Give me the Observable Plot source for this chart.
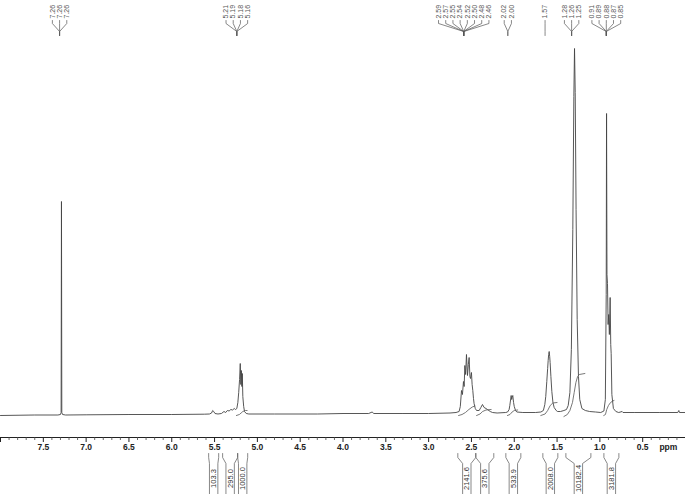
<!DOCTYPE html>
<html>
<head>
<meta charset="utf-8">
<script src="https://cdn.jsdelivr.net/npm/d3@7"></script>
<script src="https://cdn.jsdelivr.net/npm/@observablehq/plot@0.6"></script>
<style>
  html, body { margin: 0; padding: 0; background: #fff; }
  #chart { width: 685px; height: 494px; overflow: hidden; }
</style>
</head>
<body>
<div id="chart"></div>
<script>
// ---- Spectrum (chemical shift in ppm, intensity in arbitrary units) ----
const spectrum = [
  [8.00,-1],[7.60,-0.5],[7.33,-0.5],[7.30,0],[7.292,2],[7.288,213],[7.284,2],[7.275,0],[7.24,-0.5],
  [7.00,-0.3],[6.50,0],[6.00,0],[5.62,0.3],[5.56,0.5],[5.535,1.5],[5.522,4],[5.51,3],[5.495,1],
  [5.46,0.5],[5.42,1],[5.39,3],[5.37,2],[5.35,4],[5.33,3.5],[5.31,5],[5.29,4.5],[5.27,6],[5.255,5],
  [5.24,6],[5.228,12],[5.218,22],[5.208,35],[5.20,51],[5.193,30],[5.187,44],[5.181,28],[5.176,41],
  [5.17,18],[5.16,8],[5.15,3],[5.13,1],[5.10,0.5],[4.80,0.5],[4.30,0.5],[4.00,1],[3.70,1],[3.66,2.5],
  [3.64,1],[3.30,1],[3.00,1],[2.75,1.5],[2.68,2],[2.644,3],[2.63,8],[2.616,24],[2.605,20],[2.593,33],
  [2.585,28],[2.577,49],[2.568,40],[2.558,60],[2.546,39],[2.536,50],[2.527,57],[2.518,38],[2.511,36],
  [2.50,42],[2.492,30],[2.484,24],[2.476,16],[2.469,11],[2.455,6],[2.44,4],[2.41,4],[2.39,7],[2.371,10],
  [2.352,7],[2.33,6],[2.313,5],[2.28,3],[2.254,2],[2.20,1.5],[2.10,2],[2.078,2.5],[2.06,5],[2.052,9],
  [2.036,19],[2.03,15],[2.025,17],[2.017,19],[2.008,12],[2.00,8],[1.985,4],[1.97,2.5],[1.90,2],
  [1.75,2],[1.689,2.5],[1.66,4],[1.643,10],[1.632,18],[1.62,33],[1.61,46],[1.604,54],[1.598,60],
  [1.592,63],[1.586,58],[1.581,52],[1.572,38],[1.561,23],[1.548,12],[1.534,7],[1.51,4],[1.494,3],
  [1.46,3],[1.42,4],[1.39,5],[1.37,9],[1.35,22],[1.333,65],[1.316,185],[1.304,318],[1.296,366],
  [1.288,322],[1.278,205],[1.265,95],[1.25,38],[1.235,15],[1.21,6],[1.17,4],[1.12,3],[1.05,2.5],
  [0.99,2],[0.953,3.5],[0.936,15],[0.926,120],[0.922,301],[0.917,140],[0.911,131],[0.904,90],
  [0.897,100],[0.889,80],[0.880,117],[0.873,70],[0.868,61],[0.860,20],[0.842,6],[0.813,3],[0.78,2],
  [0.74,3],[0.73,2],[0.60,2],[0.30,2],[0.09,2],[0.078,4],[0.07,2],[0.00,2]
];

// ---- Integral curves (ppm, intensity) ----
const integralCurves = [
  [[5.245,-1],[5.21,0],[5.19,1.5],[5.17,3],[5.14,4],[5.12,4]],
  [[2.65,-1],[2.61,0],[2.57,2],[2.53,5],[2.49,7.5],[2.46,8.5]],
  [[2.44,-1],[2.40,0.5],[2.37,3],[2.33,4.5],[2.27,5]],
  [[2.08,-1],[2.05,0],[2.025,2.5],[2.00,4],[1.96,4.5]],
  [[1.69,-1],[1.64,0.5],[1.61,4],[1.58,9],[1.55,11.5],[1.50,12]],
  [[1.42,-2],[1.38,0],[1.35,4],[1.32,12],[1.30,22],[1.28,32],[1.26,38],[1.24,40],[1.175,41]],
  [[0.955,-1],[0.935,0],[0.92,5],[0.90,9],[0.875,12],[0.85,13.5],[0.835,14]]
];

// ---- Integral regions (from ppm, to ppm) and values ----
const integralFrom   = [5.569, 5.406, 5.230, 2.659, 2.449, 2.098, 1.666, 1.397, 0.953];
const integralTo     = [5.452, 5.230, 5.113, 2.449, 2.239, 1.923, 1.491, 1.105, 0.778];
const integralValues = ["103.3","295.0","1000.0","2141.6","375.6","533.9","2008.0","10182.4","3181.8"];

// ---- Peak labels ----
const peakGroupAnchors = [7.31, 5.24, 2.59, 2.075, 1.64, 1.33, 0.925];
const peakGroupLabels = [
  ["7.26","7.26","7.26"],
  ["5.21","5.19","5.18","5.16"],
  ["2.59","2.57","2.55","2.54","2.52","2.50","2.48","2.46"],
  ["2.02","2.00"],
  ["1.57"],
  ["1.28","1.26","1.25"],
  ["0.91","0.89","0.88","0.87","0.85"]
];

// ---- Axis ticks ----
const majorTicks = d3.range(0, 17).map(i => i * 0.5);
const tickLabels = d3.range(1, 16).map(i => i * 0.5);
const minorTicks = d3.range(0, 81).filter(i => i % 5 !== 0).map(i => i / 10);

// ---- Build derived tables ----
const pxPerPpm = 685 / 8;
const labelSpacing = 7.2 / pxPerPpm;
const labelRows = [];
const leaderRows = [];
peakGroupLabels.forEach((labels, g) => {
  const n = labels.length, cx = peakGroupAnchors[g];
  labels.forEach((t, i) => {
    const lx = cx + ((n - 1) / 2 - i) * labelSpacing;
    labelRows.push({x: lx, text: t});
    const id = g + "-" + i;
    leaderRows.push({id, x: lx, y: 394});
    leaderRows.push({id, x: lx, y: 391});
    leaderRows.push({id, x: cx, y: 383});
    leaderRows.push({id, x: cx, y: 379});
  });
});

const integralRows = [];
integralCurves.forEach((c, k) => c.forEach(([x, y]) => integralRows.push({id: k, x, y})));

const bracketRows = [];
const bracketText = [];
const hw = 4.2 / pxPerPpm;
integralFrom.forEach((f, k) => {
  const t = integralTo[k], c = (f + t) / 2;
  const h = Math.min(hw, (f - t) / 2);
  [[f, c + h], [t, c - h]].forEach(([edge, box], s) => {
    const id = k + "-" + s;
    bracketRows.push({id, x: edge, y: -39});
    bracketRows.push({id, x: edge, y: -43});
    bracketRows.push({id, x: box, y: -49});
    bracketRows.push({id, x: box, y: -82});
  });
  bracketText.push({x: c, text: integralValues[k]});
});

const ink = "#444";
const soft = "#555";

const chart = Plot.plot({
  width: 685,
  height: 494,
  marginLeft: 0, marginRight: 0, marginTop: 0, marginBottom: 0,
  x: {domain: [8, 0], axis: null},
  y: {domain: [-80, 414], axis: null},
  style: {background: "#fff", fontFamily: "'Liberation Sans', Arial, sans-serif"},
  marks: [
    // spectrum
    Plot.line(spectrum, {x: d => d[0], y: d => d[1], stroke: ink, strokeWidth: 0.9}),
    // integrals
    Plot.line(integralRows, {x: "x", y: "y", z: "id", stroke: soft, strokeWidth: 0.8}),
    // axis
    Plot.ruleY([-23], {stroke: "#222", strokeWidth: 1}),
    Plot.ruleX(majorTicks, {x: d => d, y1: -23, y2: -28, stroke: "#222"}),
    Plot.ruleX(minorTicks, {x: d => d, y1: -23, y2: -26, stroke: "#444", strokeWidth: 0.8}),
    Plot.text(tickLabels, {x: d => d, y: -33, text: d => d.toFixed(1), fontSize: 8.5, fontWeight: "bold", fill: "#222"}),
    Plot.text(["ppm"], {x: 0.2, y: -33, text: d => d, fontSize: 8.5, fontWeight: "bold", fill: "#222"}),
    // peak labels
    Plot.line(leaderRows, {x: "x", y: "y", z: "id", stroke: soft, strokeWidth: 0.7}),
    Plot.text(labelRows, {x: "x", y: 396, text: "text", rotate: -90, textAnchor: "start", fontSize: 7, fill: soft}),
    // integral brackets
    Plot.line(bracketRows, {x: "x", y: "y", z: "id", stroke: soft, strokeWidth: 0.7}),
    Plot.text(bracketText, {x: "x", y: -64, text: "text", rotate: -90, textAnchor: "middle", fontSize: 7.5, fill: "#333"})
  ]
});
document.getElementById("chart").append(chart);
</script>
</body>
</html>
